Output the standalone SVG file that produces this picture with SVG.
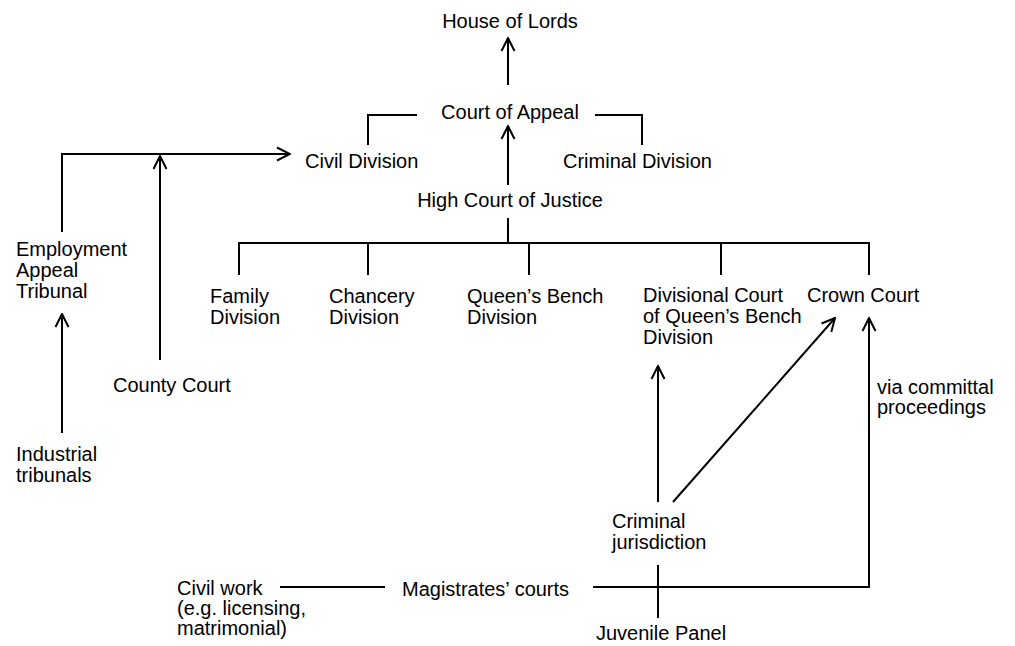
<svg xmlns="http://www.w3.org/2000/svg" width="1015" height="646" viewBox="0 0 1015 646">
<style>
text{font-family:"Liberation Sans",Arial,sans-serif;font-size:20px;fill:#000}
.c{text-anchor:middle}
.ln{fill:none;stroke:#000;stroke-width:2}
.ar{marker-end:url(#arr)}
</style>
<defs>
<marker id="arr" viewBox="-15 -8 16 16" refX="0" refY="0" markerWidth="16" markerHeight="16" markerUnits="userSpaceOnUse" orient="auto">
<path d="M-13,-6.5 L0,0 L-13,6.5" fill="none" stroke="#000" stroke-width="2"/>
</marker>
</defs>
<rect width="1015" height="646" fill="#fff"/>
<g id="connectors">
<path class="ln ar" d="M508,85 V38"/>
<path class="ln ar" d="M508,185 V126"/>
<path class="ln" d="M417,115 H368 V145"/>
<path class="ln" d="M595,115 H642 V145"/>
<path class="ln" d="M508,218 V243"/>
<path class="ln" d="M239,275 V243 H869 V275"/>
<path class="ln" d="M368,243 V275 M529,243 V275 M721,243 V275"/>
<path class="ln ar" d="M62,232 V154 H290"/>
<path class="ln ar" d="M160,360 V156"/>
<path class="ln ar" d="M62,433 V314"/>
<path class="ln ar" d="M658,502 V366"/>
<path class="ln ar" d="M673,502 L835,318"/>
<path class="ln ar" d="M593,587 H869 V318"/>
<path class="ln" d="M658,565 V618"/>
<path class="ln" d="M280,587 H385"/>
</g>
<g id="lords"><text x="510" y="28" class="c">House of Lords</text></g>
<g id="appeal"><text x="510" y="119" class="c">Court of Appeal</text></g>
<g id="civil"><text x="305" y="168">Civil Division</text></g>
<g id="criminal"><text x="563" y="168">Criminal Division</text></g>
<g id="high"><text x="510" y="207" class="c">High Court of Justice</text></g>
<g id="family"><text x="210" y="303">Family<tspan x="210" dy="21">Division</tspan></text></g>
<g id="chancery"><text x="329" y="303">Chancery<tspan x="329" dy="21">Division</tspan></text></g>
<g id="qb"><text x="467" y="303">Queen’s Bench<tspan x="467" dy="21">Division</tspan></text></g>
<g id="divisional"><text x="643" y="302">Divisional Court<tspan x="643" dy="21">of Queen’s Bench</tspan><tspan x="643" dy="21">Division</tspan></text></g>
<g id="crown"><text x="807" y="302">Crown Court</text></g>
<g id="eat"><text x="16" y="256">Employment<tspan x="16" dy="21">Appeal</tspan><tspan x="16" dy="21">Tribunal</tspan></text></g>
<g id="county"><text x="113" y="392">County Court</text></g>
<g id="industrial"><text x="16" y="461">Industrial<tspan x="16" dy="21">tribunals</tspan></text></g>
<g id="via"><text x="877" y="394">via committal<tspan x="877" dy="20">proceedings</tspan></text></g>
<g id="crimjur"><text x="612" y="528">Criminal<tspan x="612" dy="21">jurisdiction</tspan></text></g>
<g id="magistrates"><text x="402" y="596">Magistrates’ courts</text></g>
<g id="civilwork"><text x="177" y="595">Civil work<tspan x="177" dy="20">(e.g. licensing,</tspan><tspan x="177" dy="20">matrimonial)</tspan></text></g>
<g id="juvenile"><text x="596" y="640">Juvenile Panel</text></g>
</svg>
